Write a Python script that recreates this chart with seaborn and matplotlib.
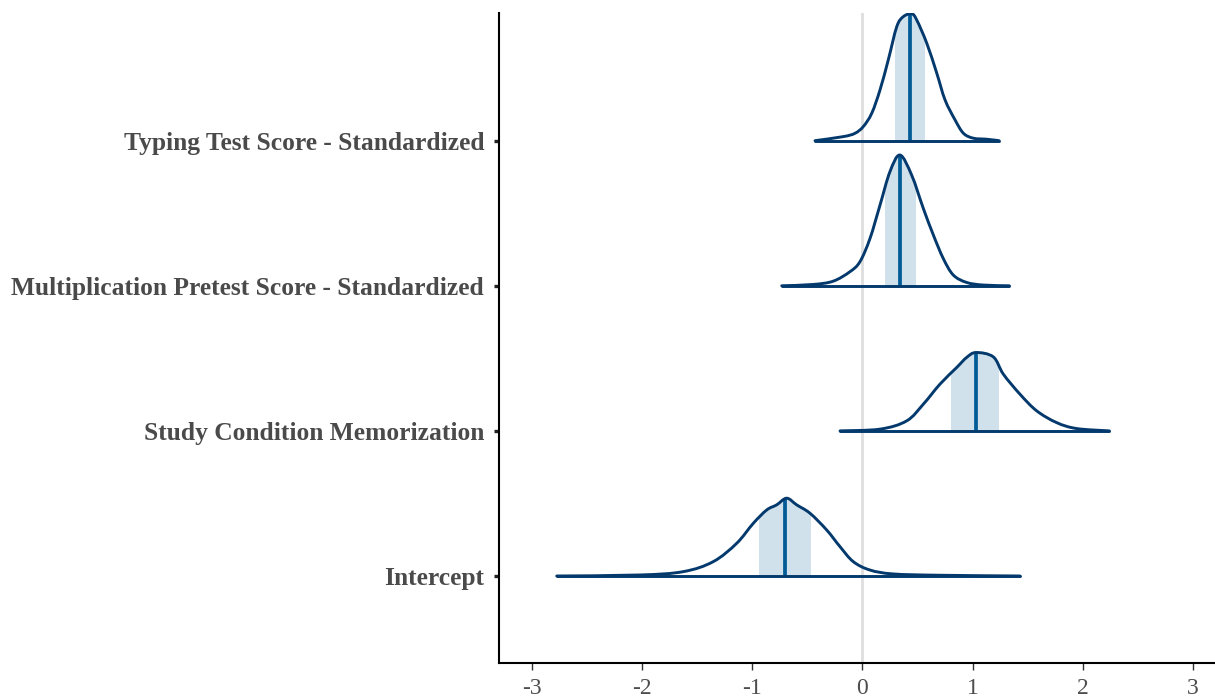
import numpy as np
import pandas as pd
import matplotlib
matplotlib.use("Agg")
import matplotlib.pyplot as plt
from matplotlib.path import Path
from matplotlib.patches import PathPatch, Rectangle
import seaborn as sns

# Posterior parameters, bottom to top
params = [
    "Intercept",
    "Study Condition Memorization",
    "Multiplication Pretest Score - Standardized",
    "Typing Test Score - Standardized",
]

# Scaled posterior density outlines (x = coefficient value, h = height in row units)
intercept_x = [-2.774, -2.018, -1.625, -1.353, -1.141, -0.990, -0.868, -0.778, -0.687,
               -0.596, -0.475, -0.324, -0.203, -0.083, 0.069, 0.280, 0.704, 1.430]
intercept_h = [0.0, 0.007, 0.030, 0.099, 0.225, 0.363, 0.455, 0.490, 0.536,
               0.490, 0.432, 0.317, 0.202, 0.099, 0.041, 0.014, 0.005, 0.0]

study_x = [-0.203, 0.160, 0.402, 0.553, 0.704, 0.856, 0.946, 1.031, 1.188,
           1.279, 1.430, 1.582, 1.763, 1.945, 2.240]
study_h = [0.0, 0.012, 0.069, 0.184, 0.322, 0.437, 0.506, 0.540, 0.510,
           0.391, 0.253, 0.138, 0.057, 0.016, 0.0]

pretest_x = [-0.732, -0.446, -0.264, -0.113, -0.022, 0.069, 0.160, 0.250, 0.341,
             0.447, 0.553, 0.644, 0.734, 0.825, 0.946, 1.097, 1.333]
pretest_h = [0.0, 0.009, 0.032, 0.097, 0.166, 0.326, 0.556, 0.786, 0.901,
             0.763, 0.533, 0.350, 0.188, 0.074, 0.023, 0.005, 0.0]

typing_x = [-0.430, -0.173, -0.067, 0.008, 0.085, 0.160, 0.235, 0.312, 0.372, 0.448,
            0.493, 0.584, 0.675, 0.750, 0.841, 0.917, 1.007, 1.128, 1.240]
typing_h = [0.0, 0.028, 0.051, 0.097, 0.189, 0.350, 0.557, 0.786, 0.855, 0.874,
            0.832, 0.672, 0.465, 0.281, 0.143, 0.051, 0.017, 0.010, 0.0]

# Posterior medians and 50% intervals
medians = [-0.700, 1.031, 0.341, 0.432]
inner_lo = [-0.936, 0.804, 0.205, 0.296]
inner_hi = [-0.466, 1.242, 0.484, 0.568]

x_ticks = [-3, -2, -1, 0, 1, 2, 3]

curves = [
    (intercept_x, intercept_h),
    (study_x, study_h),
    (pretest_x, pretest_h),
    (typing_x, typing_h),
]

sns.set_theme(style="white")
plt.rcParams["font.family"] = ["Liberation Serif", "DejaVu Serif"]

DARK = "#03396c"
MID = "#005b96"
LIGHT = "#d1e1ec"


def smooth_path(xs, ys, close=False):
    """Cubic Bezier path running through every (x, y) vertex."""
    pts = np.column_stack([xs, ys]).astype(float)
    n = len(pts)
    ext = np.vstack([pts[0], pts, pts[-1]])
    verts = [pts[0]]
    codes = [Path.MOVETO]
    for i in range(n - 1):
        p0, p1, p2, p3 = ext[i], ext[i + 1], ext[i + 2], ext[i + 3]
        c1 = p1 + (p2 - p0) / 6.0
        c2 = p2 - (p3 - p1) / 6.0
        verts += [c1, c2, p2]
        codes += [Path.CURVE4] * 3
    if close:
        verts += [pts[0], pts[0]]
        codes += [Path.LINETO, Path.CLOSEPOLY]
    return Path(np.array(verts), codes)


fig = plt.figure(figsize=(12.15, 6.98), dpi=100)
ax = fig.add_axes([0.4105, 0.0506, 0.5895, 0.9308])

ax.axvline(0, color="#dedede", lw=2.0, zorder=0)

for row, ((xs, hs), med, lo, hi) in enumerate(zip(curves, medians, inner_lo, inner_hi), start=1):
    xs_a = np.asarray(xs, dtype=float)
    ys_a = np.asarray(hs, dtype=float) + row

    # region under the density, used to clip the interval and median
    area = PathPatch(smooth_path(xs_a, ys_a, close=True), facecolor="none",
                     edgecolor="none", transform=ax.transData)
    ax.add_patch(area)

    shade = Rectangle((lo, row), hi - lo, 1.2, facecolor=LIGHT, lw=0, zorder=1)
    ax.add_patch(shade)
    shade.set_clip_path(area)

    med_line, = ax.plot([med, med], [row, row + 1.2], color=MID, lw=2.7,
                        solid_capstyle="butt", zorder=2)
    med_line.set_clip_path(area)

    # density outline
    ax.add_patch(PathPatch(smooth_path(xs_a, ys_a), facecolor="none", edgecolor=DARK,
                           lw=2.1, capstyle="round", joinstyle="round", zorder=3))
    # baseline under each density
    base = pd.DataFrame({"x": [xs_a[0], xs_a[-1]], "y": [row, row]})
    sns.lineplot(data=base, x="x", y="y", sort=False, estimator=None, ax=ax,
                 color=DARK, lw=2.1, zorder=3, solid_capstyle="round")

ax.set_xlim(-3.30, 3.20)
ax.set_ylim(0.4025, 4.88)
ax.set_xticks(x_ticks)
ax.set_xticklabels([str(t) for t in x_ticks])
ax.set_yticks([1, 2, 3, 4])
ax.set_yticklabels(params)
ax.set_xlabel("")
ax.set_ylabel("")

for lab in ax.get_yticklabels():
    lab.set_fontweight("bold")
    lab.set_fontsize(18.35)
    lab.set_color("#4a4a4a")
for lab in ax.get_xticklabels():
    lab.set_fontsize(17)
    lab.set_color("#4d4d4d")

ax.tick_params(axis="y", length=3.5, width=2.4, color="#222222", pad=7, left=True)
ax.tick_params(axis="x", length=5, width=1.0, color="#333333", pad=6, bottom=True)

for side in ["top", "right"]:
    ax.spines[side].set_visible(False)
for side in ["left", "bottom"]:
    ax.spines[side].set_color("black")
    ax.spines[side].set_linewidth(1.5)

fig.savefig("out.png", dpi=100, facecolor="white")
